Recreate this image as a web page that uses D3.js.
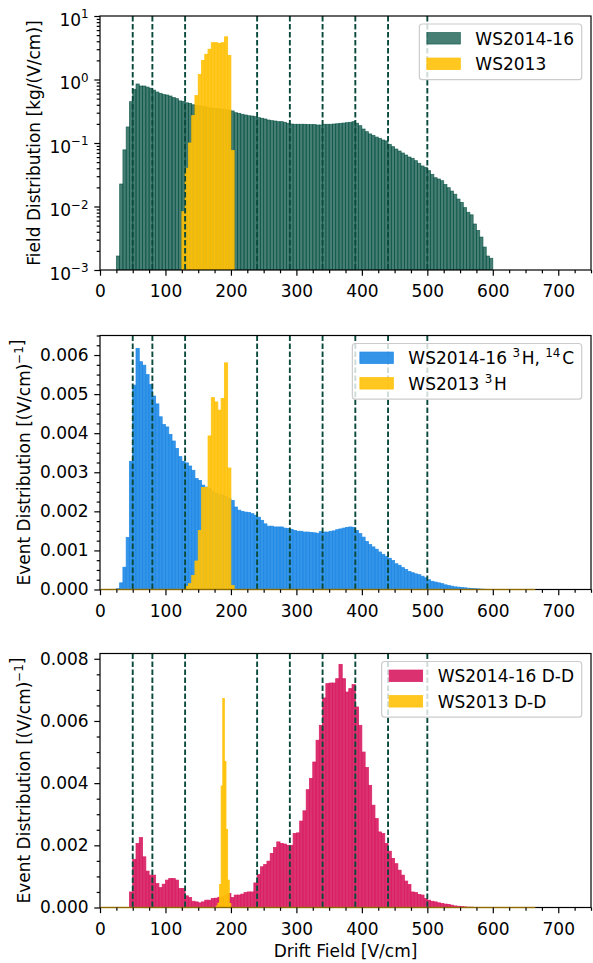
<!DOCTYPE html>
<html><head><meta charset="utf-8">
<script src="https://cdn.jsdelivr.net/npm/d3@7/dist/d3.min.js"></script>
<style>
body{margin:0;background:#fff;}
svg{display:block;}
text{font-family:"DejaVu Sans",sans-serif;}
</style></head>
<body><svg id="chart" width="593" height="963"></svg>
<script>
// ---------------- data ----------------
const binWidth = 5;
const xTicks = [0,100,200,300,400,500,600,700];
const cutLines = [50,80,130,240,290,340,390,440,500];

// Panel 1: field distribution (kg/(V/cm)), bins of 5 V/cm
const fieldStart1416 = 25;
const field1416 = [
0.00166,0.0226,0.078,0.179,0.448,0.70,0.85,0.79,0.79,0.76,
0.73,0.68,0.635,0.605,0.58,0.57,0.55,0.52,0.50,0.46,
0.45,0.43,0.42,0.40,0.39,0.385,0.38,0.37,0.36,0.355,
0.35,0.345,0.34,0.335,0.33,0.32,0.30,0.293,0.283,0.276,
0.269,0.266,0.26,0.251,0.245,0.239,0.23,0.225,0.222,0.217,
0.217,0.212,0.204,0.199,0.197,0.197,0.197,0.197,0.195,0.195,
0.195,0.192,0.192,0.197,0.197,0.197,0.199,0.201,0.204,0.206,
0.209,0.212,0.217,0.205,0.1875,0.166,0.151,0.139,0.132,0.124,
0.1185,0.1115,0.108,0.0953,0.0876,0.0804,0.0748,0.0696,0.0647,0.0602,
0.0574,0.0527,0.0479,0.0435,0.0414,0.0367,0.0321,0.0284,0.0271,0.0255,
0.0223,0.0198,0.0175,0.0156,0.0131,0.0116,0.0096,0.0081,0.0074,0.0053,
0.0042,0.0033,0.0023,0.00166,0.00153];
const fieldStart2013 = 125;
const field2013 = [0.0083,0.040,0.10,0.27,0.56,1.2,2.0,2.5,3.0,3.8,3.8,3.7,3.8,4.7,2.4,0.076];

// Panel 2: 3H / 14C event distribution ((V/cm)^-1)
const rateStart1416 = 25;
const rate1416 = [
0.00002,0.00017,0.00057,0.00133,0.00328,0.00523,0.00617,0.00583,0.00574,0.00550,
0.00525,0.00495,0.00475,0.00442,0.00422,0.00416,0.00397,0.00380,0.00361,0.00340,
0.00328,0.00324,0.00316,0.00305,0.00284,0.00279,0.00267,0.00262,0.00258,0.00252,
0.00247,0.00243,0.00242,0.00238,0.00233,0.00228,0.00211,0.00203,0.00200,0.00198,
0.00197,0.00194,0.00190,0.00185,0.00177,0.00168,0.00162,0.00162,0.00160,0.00160,
0.00160,0.00157,0.00156,0.00154,0.00151,0.00149,0.00149,0.00147,0.00147,0.00146,
0.00145,0.00144,0.00148,0.00147,0.00147,0.00149,0.00150,0.00153,0.00155,0.00157,
0.00159,0.00160,0.00159,0.00151,0.00143,0.00134,0.00123,0.00115,0.00109,0.00103,
0.00096,0.00090,0.00085,0.00080,0.00074,0.00066,0.00062,0.00056,0.00051,0.00046,
0.00043,0.00040,0.00038,0.00034,0.00030,0.00025,0.00021,0.00019,0.00017,0.00015,
0.00012,0.00010,0.000085,0.000068,0.00006,0.00005,0.000043,0.000034,0.000026,0.00002,
0.000015,0.00001,0.000006];
const rateStart2013 = 130;
const rate2013 = [0.00008,0.00015,0.00036,0.00073,0.00151,0.00261,0.00261,0.00393,0.00491,0.00480,0.00459,0.00489,0.00580,0.00311,0.00010];

// Panel 3: D-D event distribution ((V/cm)^-1)
const ddStart1416 = 45;
const dd1416 = [
0.00050,0.00155,0.00206,0.00225,0.00163,0.00117,0.00104,0.00104,0.00077,0.00064,
0.00075,0.00088,0.00093,0.00093,0.00088,0.00061,0.00061,0.000375,0.00032,0.00020,
0.00018,0.00015,0.00018,0.000235,0.000235,0.00029,0.00030,0.00033,0.00036,0.00040,
0.00045,0.00032,0.00040,0.00040,0.00043,0.00048,0.00050,0.00050,0.00079,0.00106,
0.00131,0.00138,0.00149,0.00174,0.00193,0.00211,0.00206,0.00204,0.00200,0.00200,
0.00238,0.00240,0.00278,0.00311,0.00379,0.00415,0.00468,0.00538,0.00586,0.00674,
0.00720,0.00722,0.00722,0.00736,0.00782,0.00736,0.00693,0.00704,0.00717,0.00645,
0.00586,0.00500,0.00450,0.00393,0.00329,0.00286,0.00243,0.00238,0.00206,0.00181,
0.00158,0.00141,0.00120,0.00104,0.00085,0.00074,0.00050,0.00048,0.00042,0.00040,
0.00029,0.000235,0.00020,0.00018,0.00015,0.00013,0.00011,0.00010,0.000075,0.00005,
0.00004,0.00003,0.00002,0.00001,0.00001];
const ddStart2013 = 177.5;
const ddBinWidth2013 = 2.5;
const dd2013 = [0.00005,0.00014,0.00074,0.00391,0.00672,0.00470,0.00251,0.00088,0.00013];

const logExponents = [-3,-2,-1,0,1];
const rateTicks = [0,0.001,0.002,0.003,0.004,0.005,0.006];
const ddTicks = [0,0.002,0.004,0.006,0.008];

// ---------------- drawing ----------------
const FS = 17;
const svg = d3.select("#chart");
const x = d3.scaleLinear().domain([0,750]).range([100,591]);
const L = 100, R = 591, PH = 254;

const C = {
  green: "#004d40", blue: "#1e88e5", yellow: "#ffc107", pink: "#d81b60", cut: "#0a4a3c"
};

function makeBars(g, y, yBase, start, width, values, color, op){
  const data = values.map((v,i)=>({x0:start+i*width, x1:start+(i+1)*width, v:v}));
  g.append("g").selectAll("rect").data(data).join("rect")
    .attr("x", d=>x(d.x0)).attr("width", d=>x(d.x1)-x(d.x0))
    .attr("y", d=>y(d.v)).attr("height", d=>Math.max(0, yBase - y(d.v)))
    .attr("fill", color).attr("fill-opacity", op)
    .attr("stroke", color).attr("stroke-opacity", op).attr("stroke-width", 0.8);
}

function panel(top, idx){
  const g = svg.append("g");
  const cid = "clip"+idx;
  svg.append("clipPath").attr("id", cid).append("rect")
    .attr("x", L).attr("y", top).attr("width", R-L).attr("height", PH);
  const plot = g.append("g").attr("clip-path", `url(#${cid})`);
  return {g, plot, top, bottom: top+PH};
}

function drawCuts(p){
  p.plot.append("g").selectAll("line").data(cutLines).join("line")
    .attr("x1", d=>x(d)).attr("x2", d=>x(d))
    .attr("y1", p.top).attr("y2", p.bottom)
    .attr("stroke", C.cut).attr("stroke-width", 1.9)
    .attr("stroke-dasharray", "5.5,2.5");
}

function drawXAxis(p){
  const major = d3.axisBottom(x).tickValues(xTicks).tickSize(5.7).tickPadding(9.6)
    .tickFormat(d3.format("d")).tickSizeOuter(0);
  const minor = d3.axisBottom(x).tickValues(d3.range(0,751,25).filter(v=>v%100!==0))
    .tickSize(3.3).tickFormat("").tickSizeOuter(0);
  [major, minor].forEach(a=>{
    const ax = p.g.append("g").attr("transform", `translate(0,${p.bottom})`).call(a);
    ax.select(".domain").remove();
    ax.selectAll("line").attr("stroke-width", 1.2).attr("stroke", "#000");
    ax.attr("font-size", FS).attr("font-family", "DejaVu Sans");
    ax.selectAll("text").attr("fill", "#000");
  });
}

function drawFrame(p){
  p.g.append("rect").attr("x", L).attr("y", p.top).attr("width", R-L).attr("height", PH)
    .attr("fill", "none").attr("stroke", "#000").attr("stroke-width", 1.2);
}

function drawZeroEdge(p){
  // zero-height edges of the WS2013 histogram along the baseline
  p.g.append("line").attr("x1", x(0)).attr("x2", x(665))
    .attr("y1", p.bottom).attr("y2", p.bottom)
    .attr("stroke", C.yellow).attr("stroke-opacity", 0.55).attr("stroke-width", 1.3);
}

function drawLegend(p, entries){
  const boxRight = 581.7, boxTop = p.top + 8;
  const lg = p.g.append("g");
  const box = lg.append("rect");
  const rows = [boxTop + 14.3, boxTop + 39.8];
  let maxW = 0;
  const texts = [];
  entries.forEach((e,i)=>{
    const t = lg.append("text").attr("font-size", FS).attr("fill", "#000");
    e.parts.forEach(part=>{
      if (typeof part === "string") t.append("tspan").text(part);
      else {
        t.append("tspan").attr("font-size", FS*0.7).attr("dy", -6.8).text(part.sup);
        t.append("tspan").attr("dy", 6.8).text("\u200A");
      }
    });
    texts.push(t);
    maxW = Math.max(maxW, t.node().getComputedTextLength());
  });
  const boxLeft = boxRight - (maxW + 56 + 7.7);
  box.attr("x", boxLeft).attr("y", boxTop).attr("width", boxRight-boxLeft).attr("height", 55.7)
    .attr("rx", 3).attr("fill", "#fff").attr("fill-opacity", 0.8)
    .attr("stroke", "#cccccc").attr("stroke-width", 1.2);
  entries.forEach((e,i)=>{
    lg.append("rect").attr("x", boxLeft + 7.5).attr("y", rows[i]-5.75)
      .attr("width", 33.5).attr("height", 11.5)
      .attr("fill", e.color).attr("fill-opacity", e.op)
      .attr("stroke", e.color).attr("stroke-opacity", e.op).attr("stroke-width", 0.8);
    texts[i].attr("x", boxLeft + 56).attr("y", rows[i] + 6.2);
  });
}

function yLabel(xPos, yCenter, parts){
  const t = svg.append("text").attr("transform", `translate(${xPos},${yCenter}) rotate(-90)`)
    .attr("text-anchor", "middle").attr("font-size", FS).attr("fill", "#000");
  parts.forEach(part=>{
    if (typeof part === "string") t.append("tspan").text(part);
    else {
      t.append("tspan").attr("font-size", FS*0.7).attr("dy", -6.8).text(part.sup);
      t.append("tspan").attr("dy", 6.8).text("");
    }
  });
}

// ---------- Panel 1 ----------
const p1 = panel(16, 1);
const y1 = d3.scaleLog().domain([1e-3, 10]).range([p1.bottom, p1.top]);
makeBars(p1.plot, y1, p1.bottom, fieldStart1416, binWidth, field1416, C.green, 0.72);
makeBars(p1.plot, y1, p1.bottom, fieldStart2013, binWidth, field2013, C.yellow, 0.9);
drawCuts(p1);
drawFrame(p1);
drawXAxis(p1);
{
  const minorVals = [];
  for (let e=-3; e<1; e++) for (let m=2; m<10; m++) minorVals.push(m*Math.pow(10,e));
  const a1 = d3.axisLeft(y1).tickValues(logExponents.map(e=>Math.pow(10,e))).tickSize(5.7).tickFormat("").tickSizeOuter(0);
  const a2 = d3.axisLeft(y1).tickValues(minorVals).tickSize(3.3).tickFormat("").tickSizeOuter(0);
  [a1,a2].forEach(a=>{
    const ax = p1.g.append("g").attr("transform", `translate(${L},0)`).call(a);
    ax.select(".domain").remove();
    ax.selectAll("line").attr("stroke-width", 1.2).attr("stroke", "#000");
  });
  logExponents.forEach(e=>{
    const t = p1.g.append("text").attr("x", L-11.4).attr("y", y1(Math.pow(10,e)) + 9.5)
      .attr("text-anchor", "end").attr("font-size", FS).attr("fill", "#000");
    t.append("tspan").text("10");
    t.append("tspan").attr("font-size", FS*0.7).attr("dy", -7.4).text(e<0 ? "\u2212"+(-e) : String(e));
  });
}
drawLegend(p1, [
  {parts:["WS2014-16"], color:C.green, op:0.72},
  {parts:["WS2013"], color:C.yellow, op:0.9}
]);
yLabel(40, p1.top + PH/2, ["Field Distribution [kg/(V/cm)]"]);

// ---------- Panel 2 ----------
const p2 = panel(335.5, 2);
const y2 = d3.scaleLinear().domain([0, 0.0065]).range([p2.bottom, p2.top]);
makeBars(p2.plot, y2, p2.bottom, rateStart1416, binWidth, rate1416, C.blue, 0.9);
makeBars(p2.plot, y2, p2.bottom, rateStart2013, binWidth, rate2013, C.yellow, 0.9);
drawCuts(p2);
drawFrame(p2);
drawZeroEdge(p2);
drawXAxis(p2);
{
  const a1 = d3.axisLeft(y2).tickValues(rateTicks).tickSize(5.7).tickPadding(5.7).tickFormat(d3.format(".3f")).tickSizeOuter(0);
  const a2 = d3.axisLeft(y2).tickValues(d3.range(0, 0.00651, 0.00025).filter((v,i)=>i%4!==0)).tickSize(3.3).tickFormat("").tickSizeOuter(0);
  [a1,a2].forEach(a=>{
    const ax = p2.g.append("g").attr("transform", `translate(${L},0)`).call(a);
    ax.select(".domain").remove();
    ax.selectAll("line").attr("stroke-width", 1.2).attr("stroke", "#000");
    ax.attr("font-size", FS).attr("font-family", "DejaVu Sans");
    ax.selectAll("text").attr("fill", "#000");
  });
}
drawLegend(p2, [
  {parts:["WS2014-16 ", {sup:"3"}, "H, ", {sup:"14"}, "C"], color:C.blue, op:0.9},
  {parts:["WS2013 ", {sup:"3"}, "H"], color:C.yellow, op:0.9}
]);
yLabel(30, p2.top + PH/2, ["Event Distribution [(V/cm)", {sup:"\u22121"}, "]"]);

// ---------- Panel 3 ----------
const p3 = panel(653.5, 3);
const y3 = d3.scaleLinear().domain([0, 0.00817]).range([p3.bottom, p3.top]);
makeBars(p3.plot, y3, p3.bottom, ddStart1416, binWidth, dd1416, C.pink, 0.9);
makeBars(p3.plot, y3, p3.bottom, ddStart2013, ddBinWidth2013, dd2013, C.yellow, 0.9);
drawCuts(p3);
drawFrame(p3);
drawZeroEdge(p3);
drawXAxis(p3);
{
  const a1 = d3.axisLeft(y3).tickValues(ddTicks).tickSize(5.7).tickPadding(5.7).tickFormat(d3.format(".3f")).tickSizeOuter(0);
  const a2 = d3.axisLeft(y3).tickValues([0.0005,0.001,0.0015,0.0025,0.003,0.0035,0.0045,0.005,0.0055,0.0065,0.007,0.0075]).tickSize(3.3).tickFormat("").tickSizeOuter(0);
  [a1,a2].forEach(a=>{
    const ax = p3.g.append("g").attr("transform", `translate(${L},0)`).call(a);
    ax.select(".domain").remove();
    ax.selectAll("line").attr("stroke-width", 1.2).attr("stroke", "#000");
    ax.attr("font-size", FS).attr("font-family", "DejaVu Sans");
    ax.selectAll("text").attr("fill", "#000");
  });
}
drawLegend(p3, [
  {parts:["WS2014-16 D-D"], color:C.pink, op:0.9},
  {parts:["WS2013 D-D"], color:C.yellow, op:0.9}
]);
yLabel(30, p3.top + PH/2, ["Event Distribution [(V/cm)", {sup:"\u22121"}, "]"]);

svg.append("text").attr("x", (L+R)/2).attr("y", 957).attr("text-anchor", "middle")
  .attr("font-size", FS).attr("fill", "#000").text("Drift Field [V/cm]");
</script>
</body></html>
